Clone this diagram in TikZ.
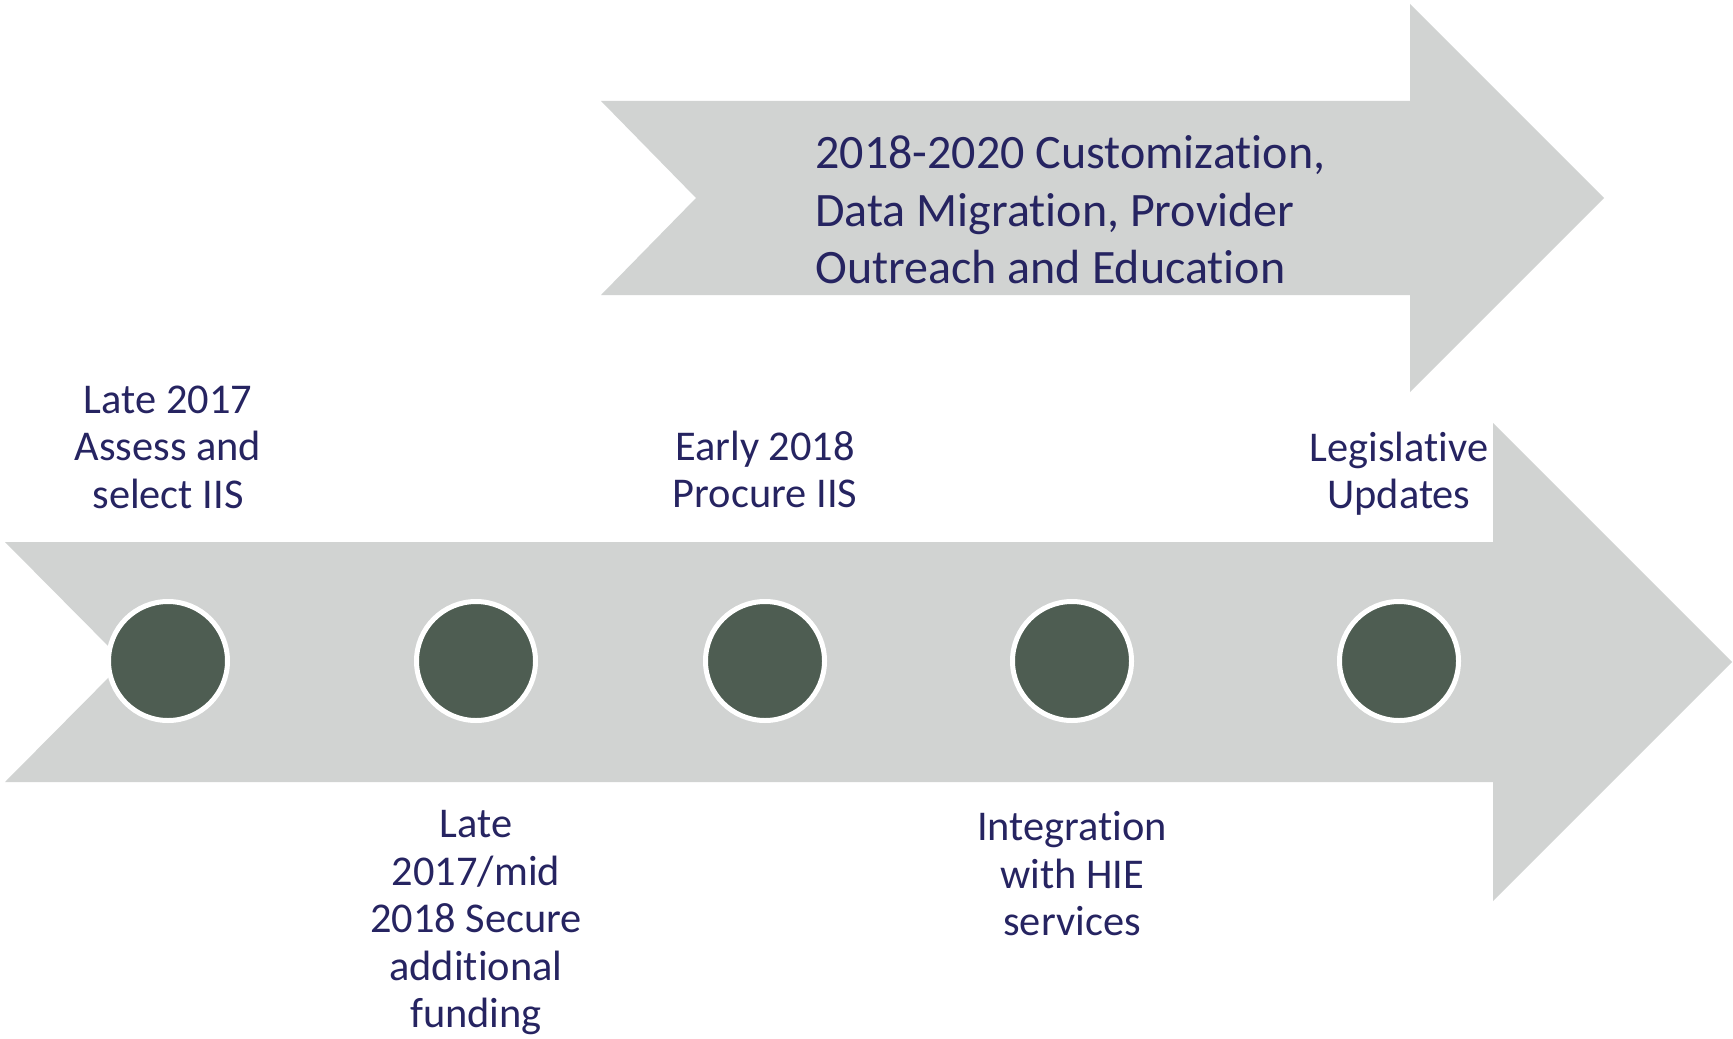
\documentclass[tikz,border=0pt]{standalone}
\usepackage{fontspec}
\setmainfont[Ligatures={NoCommon}]{Carlito}
\definecolor{arrowgray}{HTML}{D1D3D2}
\definecolor{dotgreen}{HTML}{4E5D52}
\definecolor{textnavy}{HTML}{262461}
\tikzset{
  band/.style={fill=arrowgray, draw=none},
  dot/.style={circle, fill=dotgreen, draw=white, line width=2.5pt, minimum size=59.5pt, inner sep=0pt},
  lbl/.style={align=center, text=textnavy, font=\fontsize{21.2}{23.75}\selectfont, inner sep=0pt},
  toplbl/.style={align=left, text=textnavy, font=\fontsize{24}{28.75}\selectfont, inner sep=0pt, anchor=west}
}
\begin{document}
\begin{tikzpicture}[x=0.5pt,y=-0.5pt]
\useasboundingbox (0,0) rectangle (1733,1038);
% top arrow
\path[band] (601,101) -- (1410,101) -- (1410,4) -- (1604,198) -- (1410,392) -- (1410,295) -- (601,295) -- (696,198) -- cycle;
% bottom arrow
\path[band] (5,542) -- (1493,542) -- (1493,423) -- (1732,662) -- (1493,901) -- (1493,782) -- (5,782) -- (124,662) -- cycle;
% dots
\node[dot] (d1) at (168,661) {};
\node[dot] (d2) at (476,661) {};
\node[dot] (d3) at (765,661) {};
\node[dot] (d4) at (1072,661) {};
\node[dot] (d5) at (1399,661) {};
% labels
\node[toplbl] (t0) at (815,210) {2018-2020 Customization,\\Data Migration, Provider\\Outreach and Education};
\node[lbl] (t1) at (168,447) {Late 2017\\Assess and\\select IIS};
\node[lbl] (t2) at (476,923) {Late\\2017/mid\\2018 Secure\\additional\\funding};
\node[lbl] (t3) at (765,469.5) {Early 2018\\Procure IIS};
\node[lbl] (t4) at (1072,874) {Integration\\with HIE\\services};
\node[lbl] (t5) at (1399,473.5) {Legislative\\Updates};
\end{tikzpicture}
\end{document}
